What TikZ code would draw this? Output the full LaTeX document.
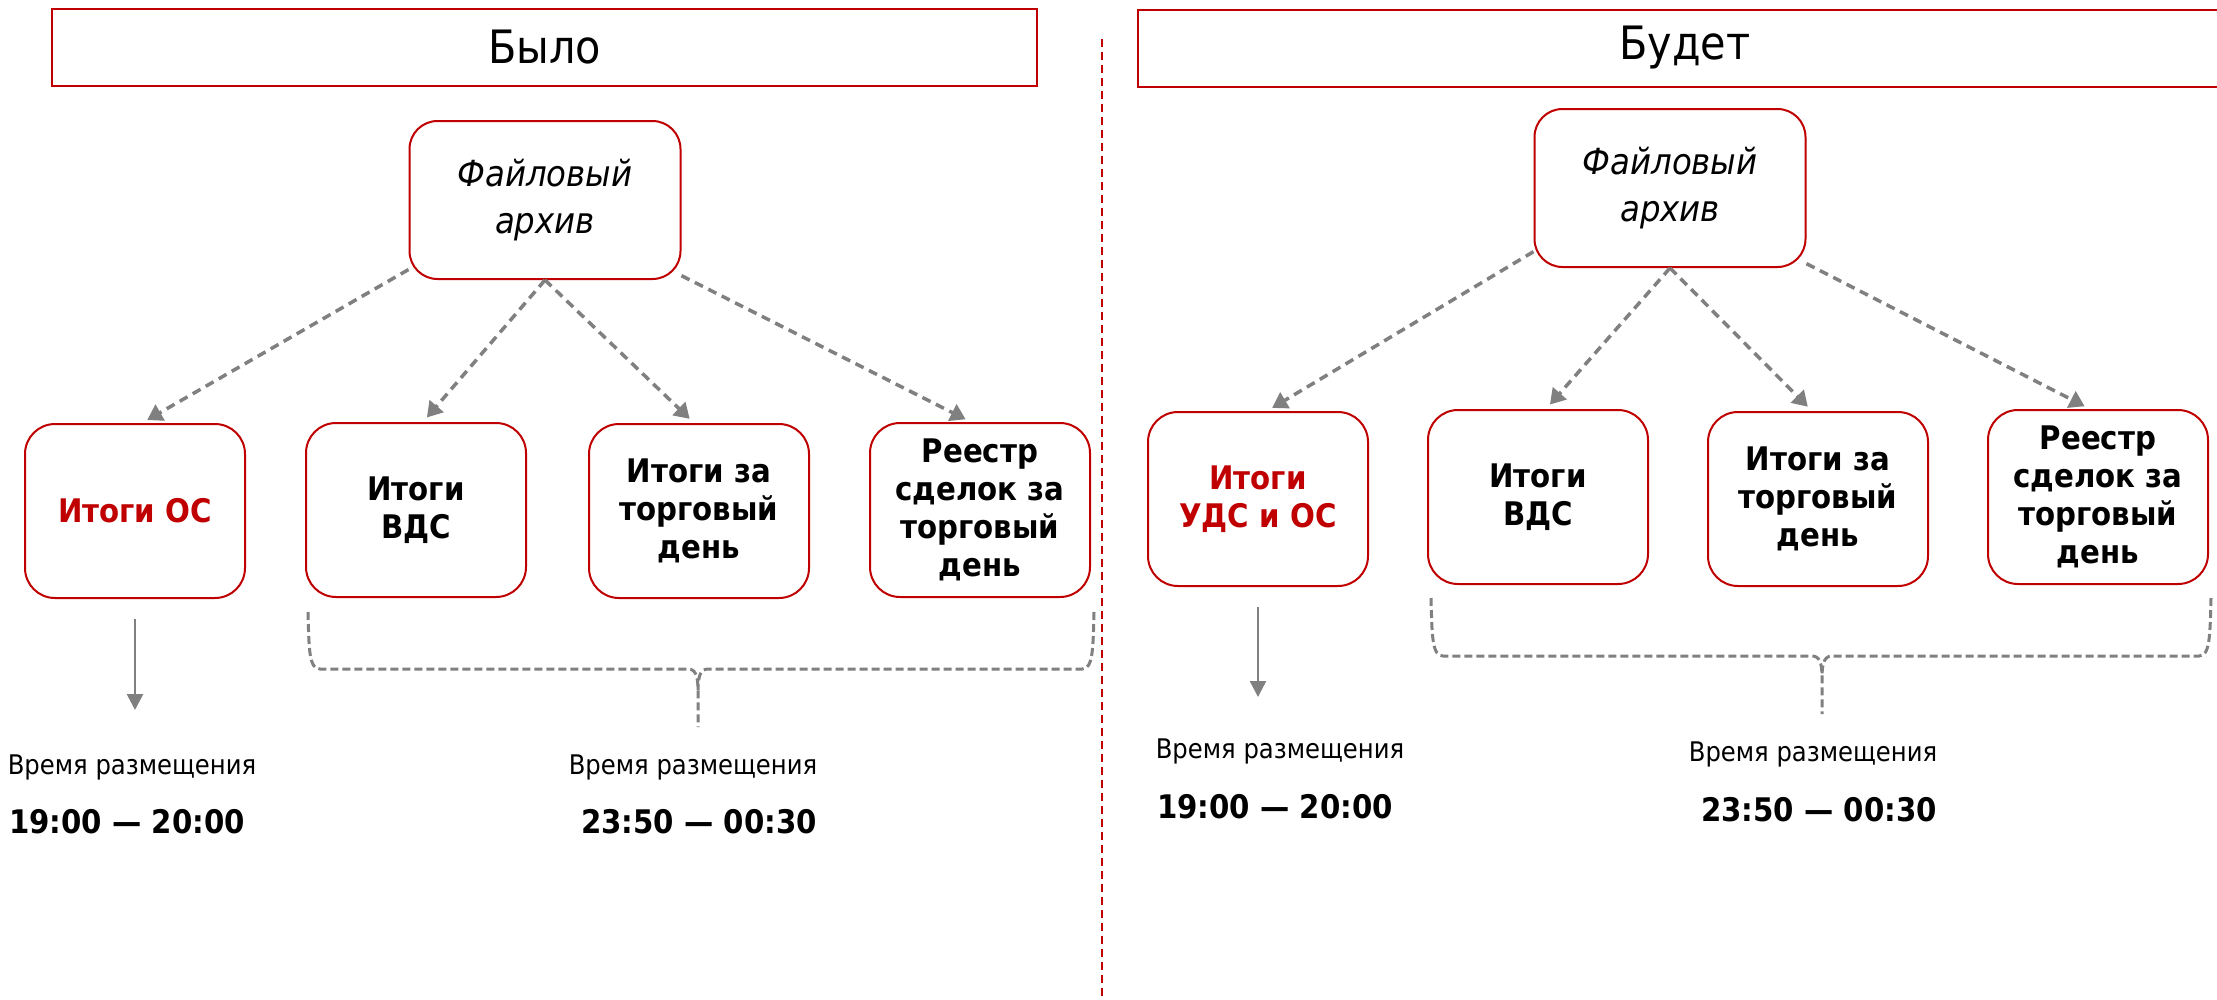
\documentclass[tikz,border=0pt]{standalone}
\usepackage{fontspec}
\setmainfont{DejaVu Sans}[FakeStretch=0.9]
\usepackage{tikz}
\usetikzlibrary{arrows.meta}
\definecolor{ruRed}{RGB}{192,0,0}
\definecolor{arrGray}{RGB}{128,128,128}
\tikzset{
  header/.style={draw=ruRed, line width=2pt, minimum height=77pt, inner sep=0pt, font=\fontsize{46}{50}\selectfont},
  archive/.style={draw=ruRed, line width=2pt, rounded corners=28pt, minimum width=271pt, minimum height=158pt, align=center, inner sep=0pt, font=\fontsize{36}{47}\selectfont\itshape},
  itembox/.style={draw=ruRed, line width=2pt, rounded corners=30pt, minimum width=220pt, minimum height=174pt, align=center, inner sep=0pt, font=\fontsize{32.5}{38}\selectfont\bfseries},
  feed/.style={draw=arrGray, line width=3.5pt, dash pattern=on 9pt off 6pt, -{Triangle[width=18pt,length=15pt]}, shorten >=6pt},
  dropline/.style={draw=arrGray, line width=2.5pt, -{Triangle[width=16pt,length=16pt]}},
  bracket/.style={draw=arrGray, line width=3pt, dash pattern=on 8pt off 4pt},
  divider/.style={draw=ruRed, line width=2pt, dash pattern=on 8pt off 5pt},
  tlabel/.style={font=\fontsize{27}{30}\selectfont},
  ttime/.style={font=\fontsize{32.5}{36}\selectfont\bfseries}
}

\begin{document}
\begin{tikzpicture}[x=1pt,y=-1pt]
    \fill[white] (0,0) rectangle (2217,999);
    \useasboundingbox (0,0) rectangle (2217,999);

    % Было
    \node[header, minimum width=985pt] (was) at (544.5,47) {Было};
    \node[archive] (arch1) at (545,200) {Файловый\\архив};
    \node[itembox, text=ruRed] (os1) at (135,511) {Итоги ОС};
    \node[itembox] (vds1) at (416,510) {Итоги\\ВДС};
    \node[itembox] (day1) at (699,511) {Итоги за\\торговый\\день};
    \node[itembox] (reg1) at (980,510) {Реестр\\сделок за\\торговый\\день};

    \draw[feed] (arch1.207) -- ([xshift=7pt]os1.north);
    \draw[feed] (arch1.south) -- ([xshift=7pt]vds1.north);
    \draw[feed] (arch1.south) -- ([xshift=-5pt]day1.north);
    \draw[feed] (arch1.331) -- ([xshift=-9pt]reg1.north);

    \coordinate (os1end) at (135,710);
    \draw[dropline] ([yshift=-20pt]os1.south) -- (os1end);
    \draw[bracket] (308,612) .. controls (309,650) and (309,669) .. (320,669) -- (688,669)
        .. controls (695,669) and (698,675) .. (698,690) -- (698,727);
    \draw[bracket] (1094,612) .. controls (1093,650) and (1093,669) .. (1082,669) -- (708,669)
        .. controls (701,669) and (698,675) .. (698,690);

    \node[tlabel] (when1) at (132,767) {Время размещения};
    \node[ttime] (time1) at (127,822) {19:00 — 20:00};
    \node[tlabel] (when2) at (693,767) {Время размещения};
    \node[ttime] (time2) at (699,822) {23:50 — 00:30};

    \draw[divider] (1102,39) -- (1102,999);

    % Будет
    \node[header, minimum width=1094pt] (will) at (1685,48) {Будет};
    \node[archive] (arch2) at (1670,188) {Файловый\\архив};
    \node[itembox, text=ruRed] (os2) at (1258,499) {Итоги\\УДС и ОС};
    \node[itembox] (vds2) at (1538,497) {Итоги\\ВДС};
    \node[itembox] (day2) at (1818,499) {Итоги за\\торговый\\день};
    \node[itembox] (reg2) at (2098,497) {Реестр\\сделок за\\торговый\\день};

    \draw[feed] (arch2.205) -- ([xshift=9pt]os2.north);
    \draw[feed] (arch2.south) -- ([xshift=8pt]vds2.north);
    \draw[feed] (arch2.south) -- ([xshift=-6pt]day2.north);
    \draw[feed] (arch2.331) -- ([xshift=-8pt]reg2.north);

    \coordinate (os2end) at (1258,697);
    \draw[dropline] ([yshift=-20pt]os2.south) -- (os2end);
    \draw[bracket] (1431,598) .. controls (1432,636) and (1432,656) .. (1443,656) -- (1812,656)
        .. controls (1819,656) and (1822,662) .. (1822,677) -- (1822,714);
    \draw[bracket] (2211,598) .. controls (2210,636) and (2210,656) .. (2199,656) -- (1832,656)
        .. controls (1825,656) and (1822,662) .. (1822,677);

    \node[tlabel] (when3) at (1280,751) {Время размещения};
    \node[ttime] (time3) at (1275,807) {19:00 — 20:00};
    \node[tlabel] (when4) at (1813,754) {Время размещения};
    \node[ttime] (time4) at (1819,810) {23:50 — 00:30};
\end{tikzpicture}
\end{document}
